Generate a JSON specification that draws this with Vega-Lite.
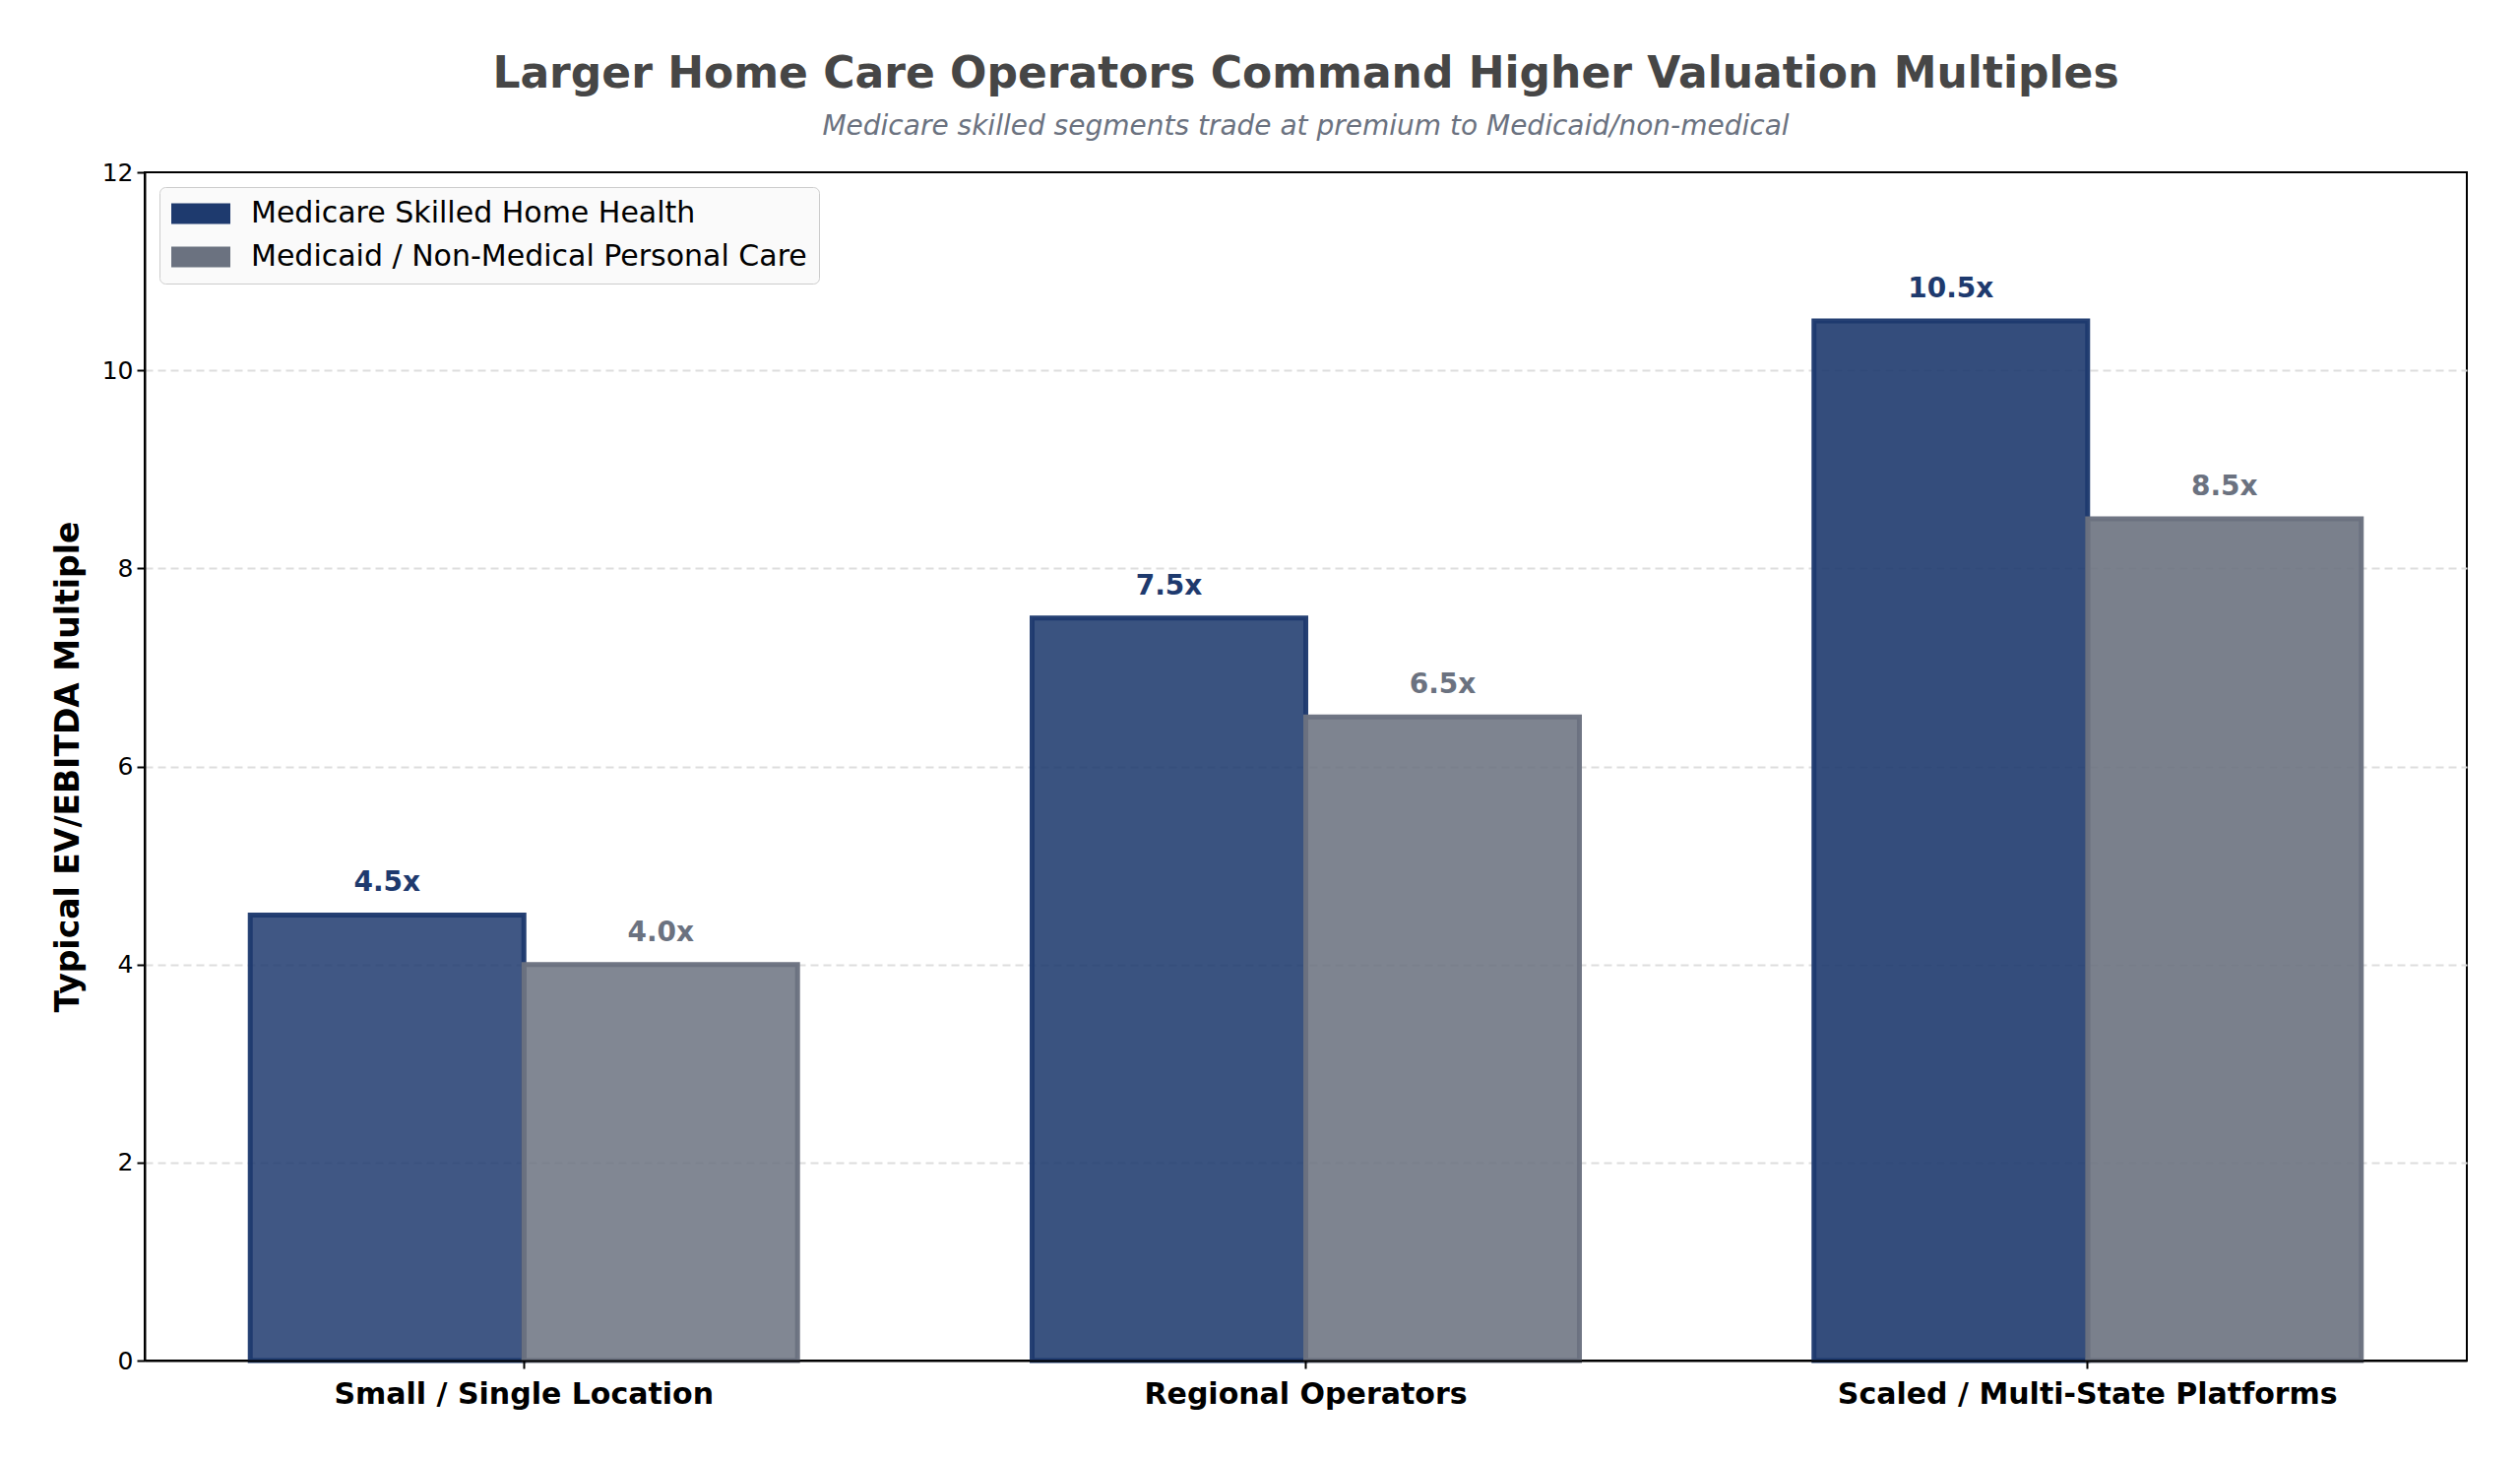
{
  "$schema": "https://vega.github.io/schema/vega-lite/v6.json",
  "width": 2359,
  "height": 1207,
  "autosize": {"type": "none"},
  "padding": {"left": 147, "top": 175, "right": 54, "bottom": 100},
  "background": "white",
  "config": {
    "font": "DejaVu Sans",
    "view": {"stroke": "black", "strokeWidth": 2},
    "axis": {"labelFont": "DejaVu Sans", "titleFont": "DejaVu Sans"}
  },
  "title": {
    "text": "Larger Home Care Operators Command Higher Valuation Multiples",
    "subtitle": "Medicare skilled segments trade at premium to Medicaid/non-medical",
    "anchor": "middle",
    "frame": "group",
    "font": "DejaVu Sans",
    "fontSize": 44,
    "fontWeight": "bold",
    "color": "#464646",
    "subtitleFont": "DejaVu Sans",
    "subtitleFontSize": 28,
    "subtitleFontStyle": "italic",
    "subtitleColor": "#6b7280",
    "subtitlePadding": 17,
    "offset": 20
  },
  "data": {
    "values": [
      {"category": "Small / Single Location", "series": "Medicare Skilled Home Health", "value": 4.5, "label": "4.5x"},
      {"category": "Small / Single Location", "series": "Medicaid / Non-Medical Personal Care", "value": 4.0, "label": "4.0x"},
      {"category": "Regional Operators", "series": "Medicare Skilled Home Health", "value": 7.5, "label": "7.5x"},
      {"category": "Regional Operators", "series": "Medicaid / Non-Medical Personal Care", "value": 6.5, "label": "6.5x"},
      {"category": "Scaled / Multi-State Platforms", "series": "Medicare Skilled Home Health", "value": 10.5, "label": "10.5x"},
      {"category": "Scaled / Multi-State Platforms", "series": "Medicaid / Non-Medical Personal Care", "value": 8.5, "label": "8.5x"}
    ]
  },
  "encoding": {
    "x": {
      "field": "category",
      "type": "nominal",
      "sort": ["Small / Single Location", "Regional Operators", "Scaled / Multi-State Platforms"],
      "scale": {"paddingInner": 0.3, "paddingOuter": 0.135},
      "axis": {
        "title": null,
        "labelAngle": 0,
        "labelFontSize": 30,
        "labelFontWeight": "bold",
        "labelColor": "black",
        "labelPadding": 11,
        "labelLimit": 1000,
        "tickSize": 8,
        "tickWidth": 2,
        "tickColor": "black",
        "domain": true,
        "domainColor": "black",
        "domainWidth": 2,
        "grid": false,
        "zindex": 1
      }
    },
    "xOffset": {
      "field": "series",
      "type": "nominal",
      "sort": ["Medicare Skilled Home Health", "Medicaid / Non-Medical Personal Care"],
      "scale": {"paddingInner": 0, "paddingOuter": 0}
    }
  },
  "layer": [
    {
      "mark": {"type": "bar", "strokeWidth": 5, "strokeOpacity": 0.97},
      "encoding": {
        "y": {
          "field": "value",
          "type": "quantitative",
          "scale": {"domain": [0, 12], "nice": false, "zero": true},
          "axis": {
            "title": "Typical EV/EBITDA Multiple",
            "titleFontSize": 33,
            "titleFontWeight": "bold",
            "titleColor": "black",
            "titlePadding": 17,
            "values": [0, 2, 4, 6, 8, 10, 12],
            "format": "d",
            "labelFontSize": 25,
            "labelColor": "black",
            "labelPadding": 4,
            "tickSize": 8,
            "tickWidth": 2,
            "tickColor": "black",
            "domain": true,
            "domainColor": "black",
            "domainWidth": 2,
            "grid": true,
            "gridColor": "#dddddd",
            "gridWidth": 2,
            "gridDash": [8, 5],
            "gridOpacity": {"condition": {"test": "datum.value === 0 || datum.value === 12", "value": 0}, "value": 1}
          }
        },
        "fill": {
          "field": "series",
          "type": "nominal",
          "sort": ["Medicare Skilled Home Health", "Medicaid / Non-Medical Personal Care"],
          "scale": {"domain": ["Medicare Skilled Home Health", "Medicaid / Non-Medical Personal Care"], "range": ["#1e3a6e", "#6b7280"]},
          "legend": {
            "title": null,
            "orient": "none",
            "legendX": 15,
            "legendY": 15,
            "labelFontSize": 30,
            "labelColor": "black",
            "labelFont": "DejaVu Sans",
            "labelOffset": 51,
            "labelLimit": 1000,
            "symbolType": "M-1,-0.7H3V0.7H-1Z",
            "symbolSize": 900,
            "symbolStrokeWidth": 0,
            "symbolOpacity": 1,
            "rowPadding": 14,
            "padding": 12,
            "fillColor": "#fafafa",
            "strokeColor": "#cccccc",
            "cornerRadius": 6
          }
        },
        "stroke": {
          "field": "series",
          "type": "nominal",
          "scale": {"domain": ["Medicare Skilled Home Health", "Medicaid / Non-Medical Personal Care"], "range": ["#1e3a6e", "#6b7280"]},
          "legend": null
        },
        "fillOpacity": {
          "field": "category",
          "type": "nominal",
          "scale": {"domain": ["Small / Single Location", "Regional Operators", "Scaled / Multi-State Platforms"], "range": [0.85, 0.9, 0.95]},
          "legend": null
        }
      }
    },
    {
      "mark": {"type": "text", "fontSize": 28, "fontWeight": "bold", "baseline": "alphabetic", "align": "center", "dy": -24},
      "encoding": {
        "y": {"field": "value", "type": "quantitative"},
        "text": {"field": "label", "type": "nominal"},
        "color": {
          "field": "series",
          "type": "nominal",
          "scale": {"domain": ["Medicare Skilled Home Health", "Medicaid / Non-Medical Personal Care"], "range": ["#1e3a6e", "#6b7280"]},
          "legend": null
        }
      }
    }
  ]
}
